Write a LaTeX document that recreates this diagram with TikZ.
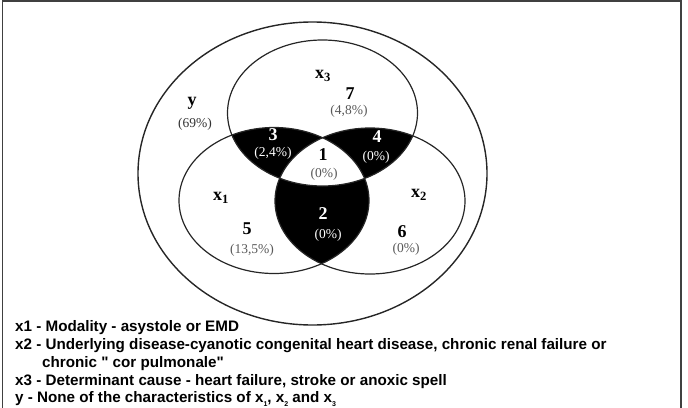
\documentclass[tikz,border=0pt]{standalone}
\usepackage{fontspec}
\setmainfont{Liberation Serif}
\newfontfamily\leyenda{Liberation Sans}
\tikzset{
  conj/.style={line width=1.2pt, draw=black!85},
  num/.style={font=\bfseries\fontsize{18}{18}\selectfont, inner sep=0pt},
  pct/.style={font=\fontsize{13.5}{14}\selectfont, text=black!65, inner sep=0pt},
  pctneg/.style={pct, text=white},
  ley/.style={font=\leyenda\bfseries\fontsize{15.2}{17}\selectfont, anchor=base west, inner sep=0pt},
}
\begin{document}
\begin{tikzpicture}[x=1pt,y=-1pt]
        \useasboundingbox (0,0) rectangle (688,407);
        \clip (0,0) rectangle (688,407);
        % Marco
        \draw[line width=1.3pt, black!75] (2.5,1) rectangle (681,430);
        % Centros de los conjuntos
        \coordinate (cy) at (312.5,173.5);
        \coordinate (cx1) at (274,200.5);
        \coordinate (cx2) at (370,201);
        \coordinate (cx3) at (322.5,113);
        % Regiones negras (2, 3 y 4)
        \begin{scope}
          \clip (cx1) ellipse [x radius=95pt, y radius=73pt];
          \fill (cx3) ellipse [x radius=95pt, y radius=73pt];
          \fill (cx2) ellipse [x radius=95pt, y radius=73pt];
        \end{scope}
        \begin{scope}
          \clip (cx2) ellipse [x radius=95pt, y radius=73pt];
          \fill (cx3) ellipse [x radius=95pt, y radius=73pt];
        \end{scope}
        % Region 1 (blanca)
        \begin{scope}
          \clip (cx1) ellipse [x radius=95pt, y radius=73pt];
          \clip (cx2) ellipse [x radius=95pt, y radius=73pt];
          \fill[white] (cx3) ellipse [x radius=95pt, y radius=73pt];
        \end{scope}
        % Contornos
        \draw[conj, line width=1.4pt] (cy) ellipse [x radius=174.5pt, y radius=151.5pt];
        \draw[conj] (cx1) ellipse [x radius=95pt, y radius=73pt];
        \draw[conj] (cx2) ellipse [x radius=95pt, y radius=73pt];
        \draw[conj] (cx3) ellipse [x radius=95pt, y radius=73pt];
        % Etiquetas de los conjuntos
        \node[num] (ny) at (192,103) {y};
        \node[pct, text=black!80] (py) at (195,124) {(69\%)};
        \node[num] (nx3) at (323,76) {x\textsubscript{3}};
        \node[num] (nx1) at (221,198) {x\textsubscript{1}};
        \node[num] (nx2) at (419,195) {x\textsubscript{2}};
        % Regiones
        \node[num] (n7) at (350,94) {7};
        \node[pct] (p7) at (349,111) {(4,8\%)};
        \node[num, text=white] (n3) at (273,135) {3};
        \node[pctneg] (p3) at (273,153) {(2,4\%)};
        \node[num] (n1) at (323,155) {1};
        \node[pct] (p1) at (324,174) {(0\%)};
        \node[num, text=white] (n4) at (377,137) {4};
        \node[pctneg] (p4) at (376,157) {(0\%)};
        \node[num, text=white] (n2) at (323,214) {2};
        \node[pctneg] (p2) at (328,235) {(0\%)};
        \node[num] (n5) at (247,229) {5};
        \node[pct] (p5) at (252,250) {(13,5\%)};
        \node[num] (n6) at (402,232) {6};
        \node[pct] (p6) at (406,249) {(0\%)};
        % Leyenda
        \node[ley] (l1) at (15,331) {x1 - Modality - asystole or EMD};
        \node[ley] (l2) at (15,349) {x2 - Underlying disease-cyanotic congenital heart disease, chronic renal failure or};
        \node[ley] (l2b) at (42,367) {chronic " cor pulmonale"};
        \node[ley] (l3) at (15,385) {x3 - Determinant cause - heart failure, stroke or anoxic spell};
        \node[ley] (l4) at (15,402) {y - None of the characteristics of x\raisebox{-0.5ex}{\scriptsize 1}, x\raisebox{-0.5ex}{\scriptsize 2} and x\raisebox{-0.5ex}{\scriptsize 3}};
\end{tikzpicture}
\end{document}
